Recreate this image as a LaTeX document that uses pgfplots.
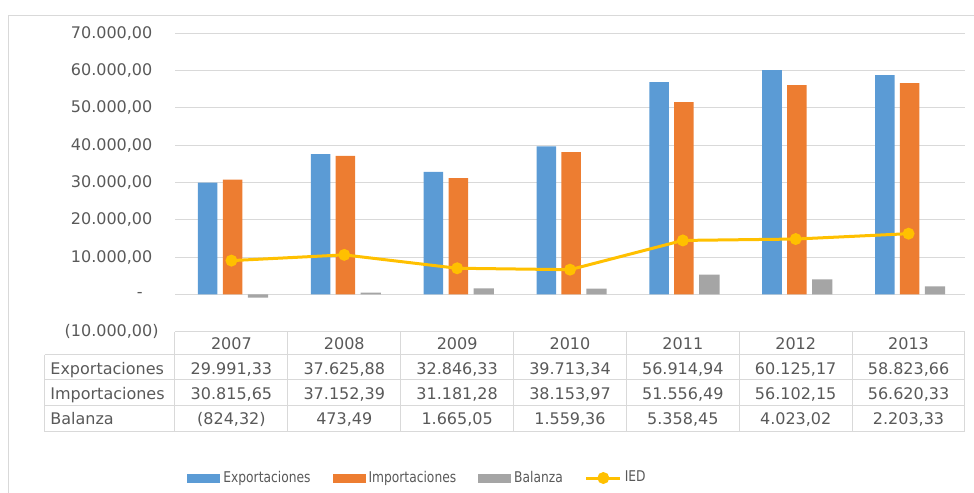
\documentclass[border=0pt]{standalone}
\usepackage{pgfplots}
\pgfplotsset{compat=1.18}
\usepackage{fontspec}
\setmainfont{DejaVu Sans}
\newfontfamily\legfont{DejaVu Sans}[FakeStretch=0.83]
\definecolor{cblue}{HTML}{5B9BD5}
\definecolor{corange}{HTML}{ED7D31}
\definecolor{cgray}{HTML}{A5A5A5}
\definecolor{cyel}{HTML}{FFC000}
\definecolor{gridc}{HTML}{D9D9D9}
\definecolor{txt}{HTML}{595959}
\pgfplotsset{
  bar legend/.style={legend image code/.code={\fill[##1] (0bp,-2.25bp) rectangle (16.5bp,2.25bp);}},
  ied legend/.style={legend image code/.code={\draw[mark repeat=2,mark phase=2,##1] plot coordinates {(0bp,0bp) (8.5bp,0bp) (17bp,0bp)};}},
}
\begin{document}
\begin{tikzpicture}
\useasboundingbox (0,0) rectangle (487bp,-246.5bp);
\draw[gridc, line width=0.5bp] (4bp,-246.5bp) -- (4bp,-7.5bp) -- (487bp,-7.5bp);
\begin{axis}[
  at={(87.5bp,-165.9bp)}, anchor=south west,
  scale only axis, width=395bp, height=149.25bp,
  xmin=-0.5, xmax=6.5, ymin=-10000, ymax=70000,
  xtick=\empty,
  ytick={-10000,0,...,70000},
  scaled y ticks=false,
  yticklabels={{(10.000,00)},{-\kern8bp},{10.000,00\phantom{)}},{20.000,00\phantom{)}},{30.000,00\phantom{)}},{40.000,00\phantom{)}},{50.000,00\phantom{)}},{60.000,00\phantom{)}},{70.000,00\phantom{)}}},
  axis line style={draw=none},
  ymajorgrids, major grid style={gridc, line width=0.5bp},
  major tick length=0pt,
  yticklabel style={font=\fontsize{8bp}{9.6bp}\selectfont, text=txt, inner sep=0pt, anchor=east, xshift=-8bp},
  legend style={at={(axis description cs:0.0152,-0.4898)}, anchor=west, draw=none, fill=none, inner sep=0pt,
    font=\legfont\fontsize{7.4bp}{8.5bp}\selectfont, text=txt, legend columns=4,
    /tikz/every even column/.append style={column sep=9bp},
    /tikz/every odd column/.append style={column sep=-0.5bp}},
  legend cell align=left,
]
\addplot[ybar, bar width=0.173, bar shift=-0.21, fill=cblue, draw=none, bar legend]
  coordinates {(0,29991.33) (1,37625.88) (2,32846.33) (3,39713.34) (4,56914.94) (5,60125.17) (6,58823.66)};
\addlegendentry{Exportaciones}
\addplot[ybar, bar width=0.173, bar shift=0.01, fill=corange, draw=none, bar legend]
  coordinates {(0,30815.65) (1,37152.39) (2,31181.28) (3,38153.97) (4,51556.49) (5,56102.15) (6,56620.33)};
\addlegendentry{Importaciones}
\addplot[ybar, bar width=0.18, bar shift=0.235, fill=cgray, draw=none, bar legend]
  coordinates {(0,-824.32) (1,473.49) (2,1665.05) (3,1559.36) (4,5358.45) (5,4023.02) (6,2203.33)};
\addlegendentry{Balanza}
\addplot[cyel, line width=1.5bp, mark=*, mark size=2.2bp, mark options={fill=cyel, draw=cyel}, ied legend]
  coordinates {(0,9080) (1,10620) (2,7030) (3,6650) (4,14490) (5,14860) (6,16300)};
\addlegendentry{IED}
\end{axis}
\begin{scope}[x=0.5bp, y=-0.5bp]
  \draw[gridc, line width=0.5bp]
    (175,331.8) -- (965,331.8)
    (45,355) -- (965,355)
    (45,380) -- (965,380)
    (45,406) -- (965,406)
    (45,431.7) -- (965,431.7)
    (45,355) -- (45,431.7);
  \foreach \k in {0,...,7} {
    \draw[gridc, line width=0.5bp] ({175+\k*112.857},331.8) -- ({175+\k*112.857},431.7);
  }
  \tikzset{cell/.style={font=\fontsize{8bp}{9.6bp}\selectfont, text=txt, inner sep=0pt, anchor=base}}
  \foreach \y [count=\i from 0] in {2007,2008,2009,2010,2011,2012,2013}
    \node[cell] at ({175+(\i+0.5)*112.857},349.2) {\y};
  \foreach \v [count=\i from 0] in {{29.991,33},{37.625,88},{32.846,33},{39.713,34},{56.914,94},{60.125,17},{58.823,66}}
    \node[cell] at ({175+(\i+0.5)*112.857},374.1) {\v};
  \foreach \v [count=\i from 0] in {{30.815,65},{37.152,39},{31.181,28},{38.153,97},{51.556,49},{56.102,15},{56.620,33}}
    \node[cell] at ({175+(\i+0.5)*112.857},399.1) {\v};
  \foreach \v [count=\i from 0] in {{(824,32)},{473,49},{1.665,05},{1.559,36},{5.358,45},{4.023,02},{2.203,33}}
    \node[cell] at ({175+(\i+0.5)*112.857},424.1) {\v};
  \node[cell, anchor=base west] at (50,374.1) {Exportaciones};
  \node[cell, anchor=base west] at (50,399.1) {Importaciones};
  \node[cell, anchor=base west] at (50,424.1) {Balanza};
\end{scope}
\end{tikzpicture}
\end{document}
